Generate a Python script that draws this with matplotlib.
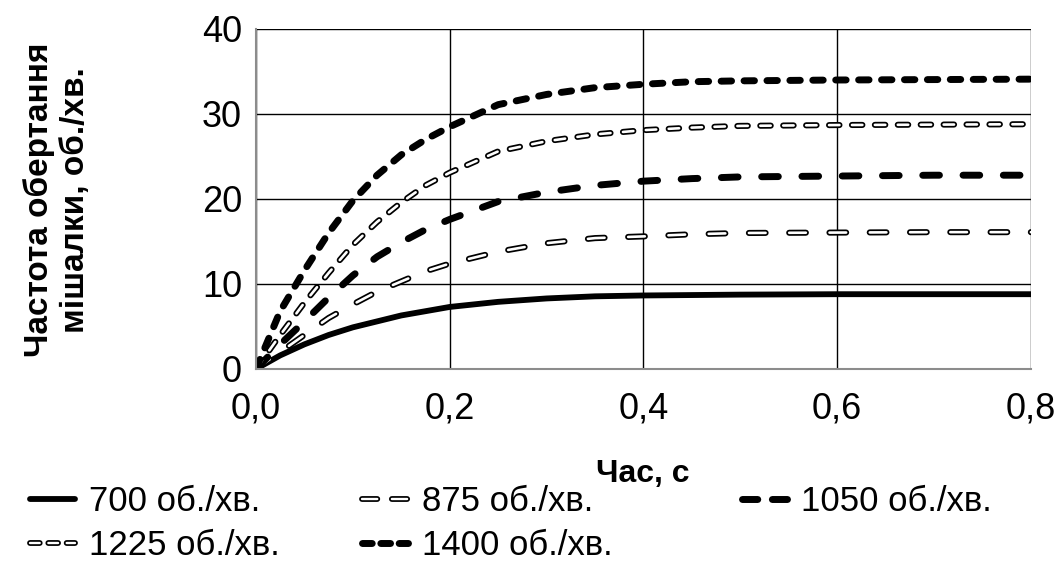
import matplotlib
matplotlib.use("Agg")
import matplotlib.pyplot as plt
from matplotlib.lines import Line2D

plt.rcParams['font.family'] = ['Liberation Sans', 'DejaVu Sans']
plt.rcParams['lines.scale_dashes'] = False

# час, с
t = [0, 0.025, 0.05, 0.075, 0.1, 0.125, 0.15, 0.175, 0.2, 0.25, 0.3,
     0.35, 0.4, 0.45, 0.5, 0.6, 0.7, 0.8]

# частота обертання мішалки, об./хв.
n700 = [0, 1.6, 2.9, 4.0, 4.9, 5.6, 6.3, 6.8, 7.3, 7.9, 8.3,
        8.55, 8.65, 8.7, 8.75, 8.8, 8.8, 8.8]
n875 = [0, 2.0, 4.0, 6.0, 7.6, 9.1, 10.3, 11.5, 12.4, 13.8, 14.8,
        15.4, 15.6, 15.85, 16.0, 16.05, 16.1, 16.1]
n1050 = [0, 2.9, 5.6, 8.4, 11.0, 13.2, 14.9, 16.4, 17.6, 19.7, 20.8,
         21.6, 22.1, 22.4, 22.6, 22.7, 22.8, 22.8]
n1225 = [0, 4.0, 7.8, 11.3, 14.6, 17.3, 19.6, 21.6, 23.1, 25.6, 26.8,
         27.6, 28.1, 28.4, 28.6, 28.7, 28.75, 28.8]
n1400 = [0, 6.8, 11.6, 16.0, 19.8, 22.8, 25.2, 27.0, 28.5, 31.1, 32.3,
         33.1, 33.5, 33.8, 33.9, 34.0, 34.05, 34.1]

labels = ['700 об./хв.', '875 об./хв.', '1050 об./хв.',
          '1225 об./хв.', '1400 об./хв.']

fig = plt.figure(figsize=(10.63, 5.80), dpi=100)
ax = fig.add_axes([0.2408, 0.3638, 0.7291, 0.5862])

# суцільна лінія
ax.plot(t, n700, color='black', lw=4.2, solid_capstyle='round')

# "порожнисті" штрихи: чорна товста + біла тонка поверх
def hollow(y, dash):
    ax.plot(t, y, color='black', lw=4.4, dashes=dash, dash_capstyle='round')
    ax.plot(t, y, color='white', lw=1.9, dashes=dash, dash_capstyle='round')

hollow(n875, (12, 17))
ax.plot(t, n1050, color='black', lw=5, dashes=(12, 17), dash_capstyle='round')
hollow(n1225, (7.5, 9))
ax.plot(t, n1400, color='black', lw=5, dashes=(7.5, 9), dash_capstyle='round')

ax.set_xlim(0, 0.8)
ax.set_ylim(0, 40)
ax.set_xticks([0, 0.2, 0.4, 0.6, 0.8])
ax.set_xticklabels(['0,0', '0,2', '0,4', '0,6', '0,8'])
ax.set_yticks([0, 10, 20, 30, 40])
ax.tick_params(length=0, labelsize=26)
ax.tick_params(axis='x', pad=16)
ax.tick_params(axis='y', pad=10)
ax.grid(True, color='black', lw=1.0)
ax.set_axisbelow(True)
for s in ['top', 'right']:
    ax.spines[s].set_visible(False)
for s in ['left', 'bottom']:
    ax.spines[s].set_color('#8c8c8c')
    ax.spines[s].set_linewidth(1.5)

fig.text(0.605, 0.182, 'Час, с', fontsize=23, fontweight='bold',
         ha='center', va='center')
fig.text(0.054, 0.655, 'Частота обертання\nмішалки, об./хв.', fontsize=24,
         fontweight='bold', rotation=90, ha='center', va='center',
         multialignment='center', linespacing=1.2)

# легенда: три окремі колонки
def hl(lw, dash=None, hollow_line=False):
    kw = dict(color='black', lw=lw, dash_capstyle='round', solid_capstyle='round')
    if dash:
        kw['dashes'] = dash
    a = Line2D([], [], **kw)
    if hollow_line:
        kw2 = dict(kw)
        kw2['color'] = 'white'
        kw2['lw'] = 1.7
        return (a, Line2D([], [], **kw2))
    return a

h700 = hl(4.2)
h875 = hl(4.2, (11, 10.5), True)
h1050 = hl(5, (11, 10.5))
h1225 = hl(4.2, (7, 6.2), True)
h1400 = hl(5, (7, 6.2))

leg_kw = dict(frameon=False, fontsize=25, handlelength=1.3, handletextpad=0.4,
              labelspacing=0.3, borderpad=0, borderaxespad=0, loc='upper left')
l1 = fig.legend([h700, h1225], [labels[0], labels[3]],
                bbox_to_anchor=(0.028, 0.163), **leg_kw)
l2 = fig.legend([h875, h1400], [labels[1], labels[4]],
                bbox_to_anchor=(0.341, 0.163), **leg_kw)
l3 = fig.legend([h1050], [labels[2]],
                bbox_to_anchor=(0.698, 0.163), **leg_kw)

fig.savefig('out.png', dpi=100)
